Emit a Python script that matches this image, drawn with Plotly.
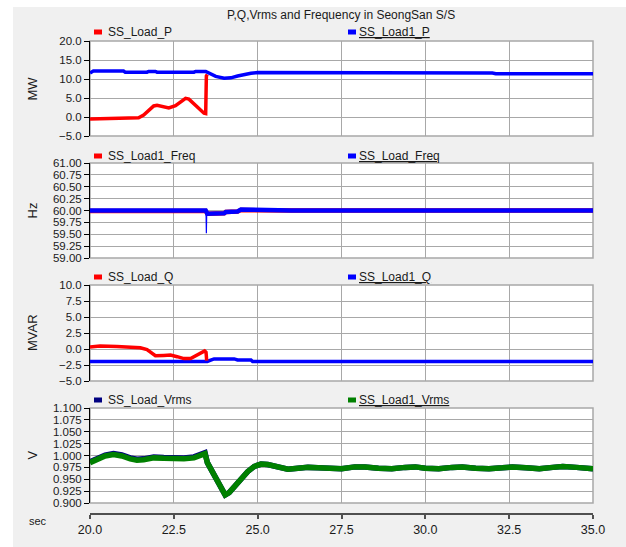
import plotly.graph_objects as go

W, H = 626, 547

# ---------------- data ----------------
t_p_load = [20.0, 20.5, 21.0, 21.3, 21.45, 21.6, 21.75, 21.9, 22.0, 22.15, 22.35, 22.55,
            22.7, 22.85, 22.95, 23.1, 23.25, 23.4, 23.45, 23.47, 23.5]
p_load = [-0.5, -0.4, -0.3, -0.45, -0.2, 0.5, 1.6, 2.9, 3.1, 2.8, 2.4, 3.0,
          4.0, 4.9, 4.7, 3.4, 2.0, 1.0, 0.9, 10.8, 11.2]

t_p_load1 = [20.0, 20.1, 21.0, 21.05, 21.7, 21.75, 21.95, 22.0, 23.1, 23.15, 23.45, 23.55,
             23.75, 24.0, 24.2, 24.4, 24.6, 24.8, 25.0, 26.0, 26.1, 26.8, 26.9, 27.5,
             27.6, 29.0, 29.1, 29.6, 29.7, 31.0, 31.1, 32.0, 32.1, 33.5, 33.6, 34.5, 34.6, 35.0]
p_load1 = [11.6, 12.1, 12.1, 11.8, 11.8, 12.0, 12.0, 11.8, 11.8, 12.0, 12.0, 11.5,
           10.7, 10.2, 10.3, 10.8, 11.2, 11.5, 11.7, 11.7, 11.5, 11.5, 11.7, 11.7,
           11.5, 11.5, 11.6, 11.6, 11.5, 11.5, 11.6, 11.6, 11.4, 11.4, 11.6, 11.6, 11.4, 11.4]

t_f_load1 = [20.0, 23.45, 23.5, 24.0, 24.05, 24.4, 24.5, 26.0, 35.0]
f_load1 = [59.99, 59.99, 59.93, 59.94, 59.97, 59.98, 60.01, 60.0, 60.0]

t_f_load = [20.0, 23.45, 23.5, 24.0, 24.05, 24.4, 24.5, 25.5, 26.0, 35.0]
f_load = [60.0, 60.0, 59.93, 59.94, 59.97, 59.98, 60.02, 60.01, 60.0, 60.0]

t_f_spike = [23.46, 23.47, 23.48]
f_spike = [59.98, 59.52, 59.93]

t_q_load = [20.0, 20.3, 20.8, 21.2, 21.5, 21.7, 21.85, 21.95, 22.2, 22.4, 22.6, 22.8,
            23.0, 23.2, 23.35, 23.42, 23.46, 23.48]
q_load = [0.3, 0.45, 0.4, 0.25, 0.2, -0.1, -0.7, -1.05, -1.0, -0.95, -1.2, -1.5,
          -1.5, -1.0, -0.6, -0.3, -0.5, -1.8]

t_q_load1 = [20.0, 23.5, 23.6, 23.7, 24.3, 24.4, 24.8, 24.85, 35.0]
q_load1 = [-1.95, -1.95, -1.75, -1.55, -1.55, -1.7, -1.7, -1.95, -1.95]

t_v = [20.0, 20.2, 20.45, 20.7, 20.95, 21.2, 21.4, 21.6, 21.9, 22.2, 22.5, 22.8, 23.1,
       23.3, 23.43, 23.5, 23.6, 23.75, 23.9, 24.03, 24.15, 24.3, 24.5, 24.7, 24.9,
       25.1, 25.3, 25.5, 25.7, 25.9, 26.2, 26.5, 26.8, 27.1, 27.5, 27.9, 28.2, 28.6,
       29.0, 29.4, 29.7, 30.0, 30.4, 30.8, 31.1, 31.5, 31.9, 32.3, 32.6, 33.0, 33.4,
       33.8, 34.1, 34.5, 35.0]
v_load1 = [0.985, 0.992, 0.999, 1.002, 0.999, 0.993, 0.990, 0.991, 0.995, 0.994, 0.993,
           0.993, 0.995, 0.999, 1.004, 0.985, 0.972, 0.955, 0.935, 0.917, 0.922, 0.935,
           0.952, 0.966, 0.977, 0.982, 0.981, 0.977, 0.972, 0.971, 0.973, 0.975, 0.974,
           0.972, 0.972, 0.976, 0.976, 0.973, 0.972, 0.975, 0.976, 0.973, 0.972, 0.975,
           0.976, 0.973, 0.972, 0.974, 0.976, 0.974, 0.972, 0.975, 0.977, 0.975, 0.972]
v_load = [0.987, 0.994, 1.001, 1.004, 1.001, 0.995, 0.992, 0.993, 0.997, 0.996, 0.995,
          0.995, 0.997, 1.001, 1.006, 0.985, 0.972, 0.955, 0.935, 0.917, 0.922, 0.935,
          0.952, 0.966, 0.977, 0.982, 0.981, 0.977, 0.972, 0.971, 0.973, 0.975, 0.974,
          0.972, 0.972, 0.976, 0.976, 0.973, 0.972, 0.975, 0.976, 0.973, 0.972, 0.975,
          0.976, 0.973, 0.972, 0.974, 0.976, 0.974, 0.972, 0.975, 0.977, 0.975, 0.972]

x_range = [20.0, 35.0]
y_ranges = [[-5.0, 20.0], [59.0, 61.0], [-5.0, 10.0], [0.9, 1.1]]
y_dticks = [5.0, 0.25, 2.5, 0.025]
y_formats = [".1f", ".2f", ".1f", ".3f"]
y_titles = ["MW", "Hz", "MVAR", "V"]
legend_names = [["SS_Load_P", "SS_Load1_P"], ["SS_Load1_Freq", "SS_Load_Freq"],
                ["SS_Load_Q", "SS_Load1_Q"], ["SS_Load_Vrms", "SS_Load1_Vrms"]]
legend_colors = [["#ff0000", "#0000ff"], ["#ff0000", "#0000ff"],
                 ["#ff0000", "#0000ff"], ["#000080", "#008000"]]
title = "P,Q,Vrms and Frequency in SeongSan S/S"

# ---------------- layout geometry (pixels) ----------------
def px_x(x):
    return x / W

def px_y(y):
    return 1 - y / H

panel_px = [(41, 136), (163, 258), (285, 381), (408, 503)]
legend_y_px = [32, 156, 277, 400]
xdom = [px_x(90), px_x(593)]

FONT = "Liberation Sans, Arial, sans-serif"
TXT = "#1a1a1a"
GRID = "#a8a8a8"

fig = go.Figure()

def add(t, v, color, width, i, name):
    ax = "" if i == 0 else str(i + 1)
    fig.add_trace(go.Scatter(x=t, y=v, mode="lines", name=name,
                             line=dict(color=color, width=width),
                             xaxis="x" + ax, yaxis="y" + ax, showlegend=False,
                             hoverinfo="skip"))

add(t_p_load, p_load, "#ff0000", 3.5, 0, "SS_Load_P")
add(t_p_load1, p_load1, "#0000ff", 3.5, 0, "SS_Load1_P")
add(t_f_load1, f_load1, "#ff0000", 4.5, 1, "SS_Load1_Freq")
add(t_f_load, f_load, "#0000ff", 4.5, 1, "SS_Load_Freq")
add(t_f_spike, f_spike, "#0000ff", 1.2, 1, "SS_Load_Freq")
add(t_q_load1, q_load1, "#0000ff", 3.5, 2, "SS_Load1_Q")
add(t_q_load, q_load, "#ff0000", 3.5, 2, "SS_Load_Q")
add(t_v, v_load, "#000080", 5.5, 3, "SS_Load_Vrms")
add(t_v, v_load1, "#008000", 5.5, 3, "SS_Load1_Vrms")

layout = dict(
    width=W, height=H, margin=dict(l=0, r=0, t=0, b=0, autoexpand=False),
    paper_bgcolor="#f0f0f0", plot_bgcolor="#ffffff",
    font=dict(family=FONT, color=TXT, size=12),
    showlegend=False,
)

shapes = [
    dict(type="rect", xref="paper", yref="paper", x0=0, x1=px_x(13), y0=0, y1=1,
         fillcolor="#ffffff", line=dict(width=0), layer="below"),
    dict(type="rect", xref="paper", yref="paper", x0=0, x1=1, y0=px_y(7), y1=1,
         fillcolor="#ffffff", line=dict(width=0), layer="below"),
]
annotations = [
    dict(text=title, x=px_x(341), y=px_y(15), xref="paper", yref="paper",
         showarrow=False, xanchor="center", yanchor="middle",
         font=dict(size=12, family=FONT, color=TXT)),
    dict(text="sec", x=px_x(38), y=px_y(521), xref="paper", yref="paper",
         showarrow=False, xanchor="center", yanchor="middle",
         font=dict(size=11, family=FONT, color=TXT)),
]

for i in range(4):
    ax = "" if i == 0 else str(i + 1)
    top, bot = panel_px[i]
    ydom = [px_y(bot), px_y(top)]
    last = (i == 3)
    xa = dict(domain=xdom, range=x_range, dtick=2.5, tick0=20.0, automargin=False,
              showgrid=True, gridcolor=GRID, gridwidth=1, zeroline=False,
              anchor="y" + ax, showticklabels=False, ticks="", showline=False)
    if last:
        xa.update(anchor="free", position=px_y(514), showticklabels=True,
                  ticks="outside", ticklen=4, tickwidth=1.5, tickcolor="#505050",
                  showline=True, linecolor="#505050", linewidth=2,
                  tickformat=".1f", tickfont=dict(size=12.5, family=FONT, color=TXT))
    ya = dict(domain=ydom, range=y_ranges[i], dtick=y_dticks[i], tick0=y_ranges[i][0],
              tickformat=y_formats[i], showgrid=True, gridcolor=GRID, gridwidth=1,
              zeroline=False, showline=True, linecolor="#000000", linewidth=1,
              ticks="outside", ticklen=5, tickcolor="#000000", tickwidth=1,
              automargin=False, anchor="x" + ax,
              tickfont=dict(size=11.5, family=FONT, color=TXT))
    layout["xaxis" + ax] = xa
    layout["yaxis" + ax] = ya

    # plot-area border
    shapes.append(dict(type="rect", xref="x" + ax + " domain", yref="y" + ax + " domain",
                       x0=0, x1=1, y0=0, y1=1, line=dict(color=GRID, width=1.5),
                       fillcolor="rgba(0,0,0,0)", layer="below"))

    # axis title
    annotations.append(dict(text=y_titles[i], x=px_x(32), y=(ydom[0] + ydom[1]) / 2,
                            xref="paper", yref="paper", showarrow=False, textangle=-90,
                            xanchor="center", yanchor="middle",
                            font=dict(size=13, family=FONT, color=TXT)))

    # legend rows
    ly = legend_y_px[i]
    for j, (lx_mark, lx_text) in enumerate([(94, 106), (348, 357)]):
        shapes.append(dict(type="rect", xref="paper", yref="paper",
                           x0=px_x(lx_mark), x1=px_x(lx_mark + 8),
                           y0=px_y(ly + 2.5), y1=px_y(ly - 2.5),
                           fillcolor=legend_colors[i][j], line=dict(width=0)))
        txt = legend_names[i][j] if j == 0 else "<u>" + legend_names[i][j] + "</u>"
        annotations.append(dict(text=txt, x=px_x(lx_text), y=px_y(ly), xref="paper",
                                yref="paper", showarrow=False, xanchor="left",
                                yanchor="middle",
                                font=dict(size=12, family=FONT, color=TXT)))

layout["shapes"] = shapes
layout["annotations"] = annotations
fig.update_layout(**layout)
fig.write_html("out.html")
